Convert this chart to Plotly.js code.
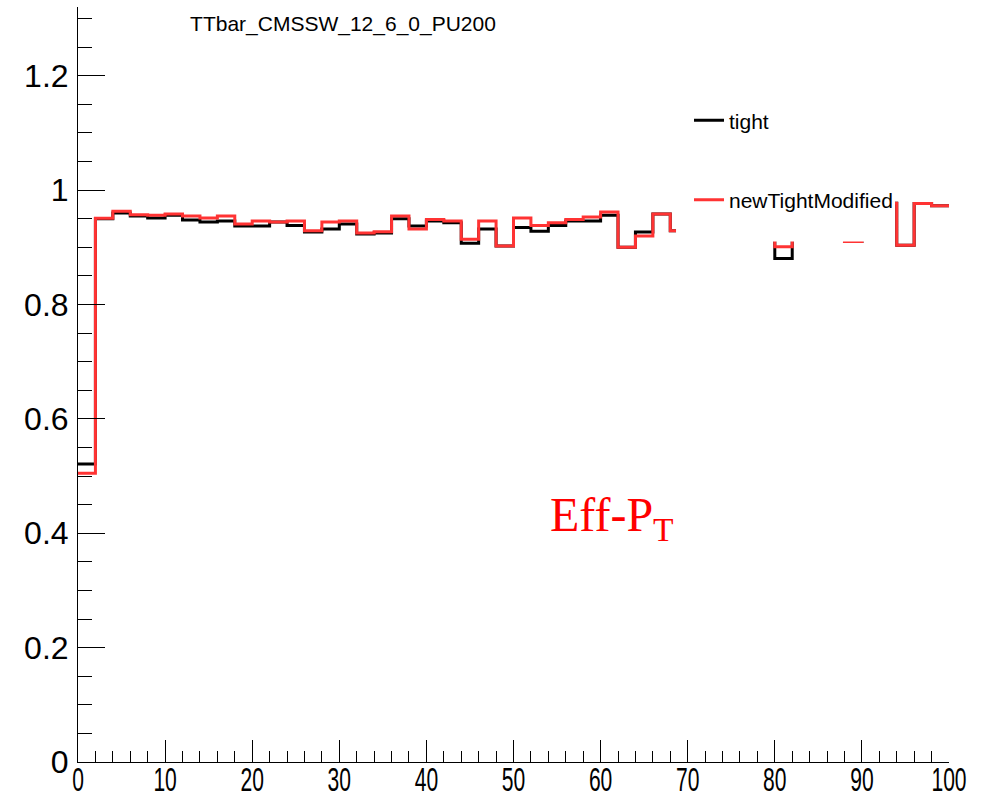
<!DOCTYPE html>
<html>
<head>
<meta charset="utf-8">
<script src="https://cdn.plot.ly/plotly-3.0.1.min.js"></script>
<style>
  html, body { margin: 0; padding: 0; background: #fff; }
  #chart { width: 987px; height: 800px; }
</style>
</head>
<body>
<div id="chart"></div>
<script>
// ---- data ----
const binWidth = 2;
const nBins = 50;
const binLow = Array.from({length: nBins}, (_, i) => i * binWidth);

const tightEff = [
  0.521, 0.950, 0.960, 0.9545, 0.951, 0.956, 0.9475, 0.944, 0.946, 0.937,
  0.937, 0.944, 0.938, 0.9265, 0.932, 0.9405, 0.923, 0.925, 0.950, 0.937,
  0.946, 0.943, 0.907, 0.932, 0.902, 0.9345, 0.928, 0.938, 0.946, 0.946,
  0.956, 0.900, 0.9265, 0.958, 0.929, 0.940, 0.930, 0.950, 0.930, 0.940,
  0.8805, 0.950, 0.930, 0.940, 0.910, 0.950, 0.977, 0.9035, 0.9765, 0.9725
];

const newTightModifiedEff = [
  0.505, 0.9505, 0.963, 0.957, 0.956, 0.958, 0.9545, 0.951, 0.9545, 0.9405,
  0.946, 0.944, 0.946, 0.929, 0.944, 0.946, 0.925, 0.927, 0.9545, 0.932,
  0.9485, 0.946, 0.914, 0.946, 0.902, 0.951, 0.938, 0.943, 0.9485, 0.953,
  0.9615, 0.900, 0.9195, 0.958, 0.929, 0.940, 0.930, 0.950, 0.930, 0.940,
  0.901, 0.950, 0.930, 0.940, 0.910, 0.950, 0.977, 0.9035, 0.9765, 0.9725
];

const seriesNames = ['tight', 'newTightModified'];
const titleText = 'TTbar_CMSSW_12_6_0_PU200';
const labelText = 'Eff-P<sub>T</sub>';

// ---- build step outlines (histogram style) ----
function stepX() { return binLow.concat([binLow[nBins - 1] + binWidth]); }
function stepY(v) { return v.concat([v[v.length - 1]]); }

const traces = [
  {
    type: 'scatter', mode: 'lines', name: seriesNames[0],
    x: stepX(), y: stepY(tightEff),
    line: {shape: 'hv', color: '#000000', width: 3},
    legend: 'legend', hoverinfo: 'skip'
  },
  {
    type: 'scatter', mode: 'lines', name: seriesNames[1],
    x: stepX(), y: stepY(newTightModifiedEff),
    line: {shape: 'hv', color: '#ff3333', width: 3},
    legend: 'legend2', hoverinfo: 'skip'
  }
];

const sans = 'Liberation Sans, Arial, Helvetica, sans-serif';
const yMax = 1.32;

const layout = {
  width: 987, height: 800,
  margin: {l: 78, r: 38, t: 7, b: 38, pad: 0},
  paper_bgcolor: '#ffffff', plot_bgcolor: '#ffffff',
  showlegend: true,
  title: {
    text: titleText,
    font: {family: sans, size: 21, color: '#000'},
    x: 0.3475, xref: 'container', xanchor: 'center',
    y: 0.97, yref: 'container', yanchor: 'middle'
  },
  xaxis: {
    range: [0, 100], showgrid: false, zeroline: false,
    showline: true, linecolor: '#000', linewidth: 1,
    ticks: 'inside', ticklen: 22, tickwidth: 1, tickcolor: '#000',
    tick0: 0, dtick: 10,
    tickfont: {family: sans, size: 34, color: '#000'},
    ticklabelstandoff: -13,
    minor: {dtick: 2, ticks: 'inside', ticklen: 11, tickwidth: 1, tickcolor: '#000', showgrid: false}
  },
  yaxis: {
    range: [0, yMax], showgrid: false, zeroline: false,
    showline: true, linecolor: '#000', linewidth: 1,
    ticks: 'inside', ticklen: 27, tickwidth: 1, tickcolor: '#000',
    tick0: 0, dtick: 0.2,
    tickfont: {family: sans, size: 32, color: '#000'},
    ticklabelstandoff: 2,
    minor: {dtick: 0.05, ticks: 'inside', ticklen: 14, tickwidth: 1, tickcolor: '#000', showgrid: false}
  },
  xaxis2: {
    overlaying: 'x', side: 'top', anchor: 'y',
    range: [0, 100], showgrid: false, zeroline: false,
    showline: true, linecolor: '#000', linewidth: 1,
    ticks: 'inside', ticklen: 13, tickwidth: 1, tickcolor: '#000',
    tick0: 0, dtick: 10, showticklabels: false,
    minor: {dtick: 2, ticks: 'inside', ticklen: 8, tickwidth: 1, tickcolor: '#000', showgrid: false}
  },
  yaxis2: {
    overlaying: 'y', side: 'right', anchor: 'x',
    range: [0, yMax], showgrid: false, zeroline: false,
    showline: true, linecolor: '#000', linewidth: 1,
    ticks: 'inside', ticklen: 19, tickwidth: 1, tickcolor: '#000',
    tick0: 0, dtick: 0.2, showticklabels: false,
    minor: {dtick: 0.05, ticks: 'inside', ticklen: 11, tickwidth: 1, tickcolor: '#000', showgrid: false}
  },
  legend: {
    x: 0.7015, xref: 'paper', xanchor: 'left',
    y: 0.8494, yref: 'paper', yanchor: 'middle',
    bgcolor: 'rgba(0,0,0,0)', borderwidth: 0,
    font: {family: sans, size: 21, color: '#000'}
  },
  legend2: {
    x: 0.7015, xref: 'paper', xanchor: 'left',
    y: 0.7444, yref: 'paper', yanchor: 'middle',
    bgcolor: 'rgba(0,0,0,0)', borderwidth: 0,
    font: {family: sans, size: 21, color: '#000'}
  },
  shapes: [
    // white legend box (as in the original ROOT TLegend, it hides the curves beneath)
    {type: 'rect', xref: 'paper', yref: 'paper', layer: 'above',
     x0: 0.6866, x1: 0.938, y0: 0.6894, y1: 0.88,
     fillcolor: '#ffffff', line: {width: 0}}
  ],
  annotations: [
    {text: labelText, xref: 'paper', yref: 'paper', x: 0.5396, y: 0.323,
     xanchor: 'left', yanchor: 'middle', showarrow: false,
     font: {family: 'Liberation Serif, Times New Roman, serif', size: 48, color: '#ff0000'}}
  ]
};

Plotly.newPlot('chart', traces, layout, {staticPlot: true, displayModeBar: false}).then(function () {
  // ROOT draws the x tick labels horizontally condensed
  document.querySelectorAll('.xaxislayer-above .xtick text').forEach(function (el) {
    const b = el.getBBox();
    const cx = b.x + b.width / 2;
    const t = el.getAttribute('transform') || '';
    el.setAttribute('transform', t + ' translate(' + cx + ',0) scale(0.62,1) translate(' + (-cx) + ',0)');
  });
});
</script>
</body>
</html>
